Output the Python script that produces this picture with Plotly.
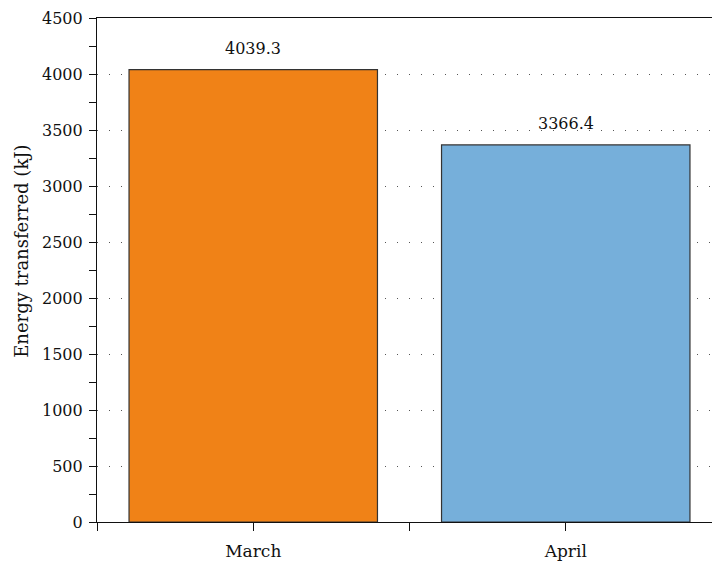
import plotly.graph_objects as go

categories = ["March", "April"]
values = [4039.3, 3366.4]
labels = ["4039.3", "3366.4"]
colors = ["#F08217", "#76AFDA"]
y_max = 4500
y_step = 500
y_minor_step = 250
y_title = "Energy transferred (kJ)"

xpos = list(range(len(categories)))
FONT = "DejaVu Serif"

fig = go.Figure()
fig.add_trace(go.Bar(
    x=xpos, y=values, width=0.795,
    marker=dict(color=colors, line=dict(color="#333333", width=1.2)),
))
for xi, v, t in zip(xpos, values, labels):
    fig.add_annotation(x=xi, y=v, text=t, showarrow=False, yanchor="bottom",
                       yshift=10, font=dict(family=FONT, size=16, color="#111111"))

fig.add_annotation(xref="paper", yref="paper", x=0, y=0.536, xshift=-75,
                   text=y_title, textangle=-90, showarrow=False,
                   xanchor="center", yanchor="middle",
                   font=dict(family=FONT, size=18, color="#111111"))

all_vals = [i * y_minor_step for i in range(int(y_max / y_minor_step) + 1)]
all_text = [str(v) if v % y_step == 0 else "" for v in all_vals]

tv = [-0.5, 0, 0.5, 1, 1.5]
tt = ["", categories[0], "", categories[1], ""]
fig.update_layout(
    width=712, height=561,
    margin=dict(l=97, r=0, t=18, b=39),
    paper_bgcolor="white", plot_bgcolor="white",
    showlegend=False,
    font=dict(family=FONT, size=16, color="#111111"),
    xaxis=dict(range=[-0.5, 1.468], tickvals=tv, ticktext=tt, automargin=False,
               ticks="outside", ticklen=8, tickcolor="#111111", tickwidth=1.2,
               showline=True, linecolor="#111111", linewidth=1.2, mirror=True,
               showgrid=False, zeroline=False, tickfont=dict(size=17),
               ticklabelstandoff=5),
    yaxis=dict(range=[0, y_max], tickvals=all_vals, ticktext=all_text, automargin=False,
               ticks="outside", ticklen=7, tickcolor="#111111", tickwidth=1.2,
               showline=True, linecolor="#111111", linewidth=1.2,
               showgrid=False, zeroline=False, tickfont=dict(size=16), ticklabelstandoff=3),
    yaxis2=dict(range=[0, y_max], overlaying="y", side="left", anchor="x",
                tickmode="linear", tick0=0, dtick=y_step, ticks="",
                showticklabels=False, showgrid=True, gridcolor="#555555", gridwidth=1,
                griddash="1px,11px", zeroline=False, showline=False, automargin=False,
                layer="below traces"),
)
fig.add_trace(go.Scatter(x=[None], y=[None], yaxis="y2", showlegend=False, hoverinfo="skip"))
fig.write_html("out.html", config={"displayModeBar": False},
               post_script="document.body.style.margin='0';document.body.style.overflow='hidden';")
